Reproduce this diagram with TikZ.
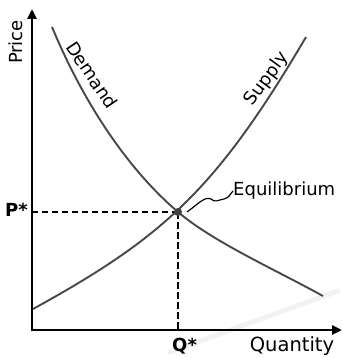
\documentclass[tikz,border=0pt]{standalone}
\usepackage{fontspec}
\setmainfont{DejaVu Sans}
\usetikzlibrary{arrows.meta}
\begin{document}
\begin{tikzpicture}[x=1pt,y=-1pt,
  curve/.style={draw=black!72, line width=1.9pt},
  axis/.style={draw=black, line width=2.9pt, line join=miter},
  guide/.style={draw=black, line width=2.4pt, dash pattern=on 6.5pt off 3.5pt},
  wig/.style={draw=black, line width=1.2pt},
  lbl/.style={font=\fontsize{18}{20}\selectfont, inner sep=0pt},
  blbl/.style={font=\fontsize{18}{20}\selectfont\bfseries, inner sep=0pt}]
\useasboundingbox (0,0) rectangle (342,358);
\draw[gray!10, line width=5pt, line cap=round] (170,352) -- (338,291);
\coordinate (O) at (32,330);
\coordinate (Ytop) at (32,9);
\coordinate (Xend) at (342,330);
\coordinate (E) at (178,212);
\draw[axis, {Triangle[length=10pt,width=9pt]}-{Triangle[length=10pt,width=9pt]}] (Ytop) -- (O) -- (Xend);
% demand
\draw[curve] (52,27) .. controls (87,111) and (133,173.75) .. (E)
                     .. controls (213,241.75) and (273,268.5) .. (323,296);
% supply
\draw[curve] (33,309) .. controls (163,237.5) and (216,190) .. (306,37);
\draw[guide] (E) -- (O |- E);
\draw[guide] (E) -- (E |- O);
\node[circle, fill=black!75, minimum size=8pt, inner sep=0pt] (Edot) at (E) {};
\node[blbl, anchor=base west] (pstar) at (5,216) {P*};
\node[blbl, anchor=base west] (qstar) at (172,351) {Q*};
\node[lbl, font=\fontsize{19.5}{21}\selectfont, anchor=base] (qty) at (292,351) {Quantity};
\node[lbl, rotate=90] (price) at (16,42) {Price};
\node[lbl, rotate=-56] (dem) at (92,75) {Demand};
\node[lbl, rotate=54] (sup) at (267,79) {Supply};
\node[lbl, anchor=base west] (eq) at (233,195) {Equilibrium};
\draw[wig] ([xshift=9pt]E) .. controls (198,204) and (205,196) .. (211,199) .. controls (215,203) and (218,200) .. (224,199) .. controls (229,198) and (230,194) .. ([yshift=4pt]eq.base west);
\end{tikzpicture}
\end{document}
